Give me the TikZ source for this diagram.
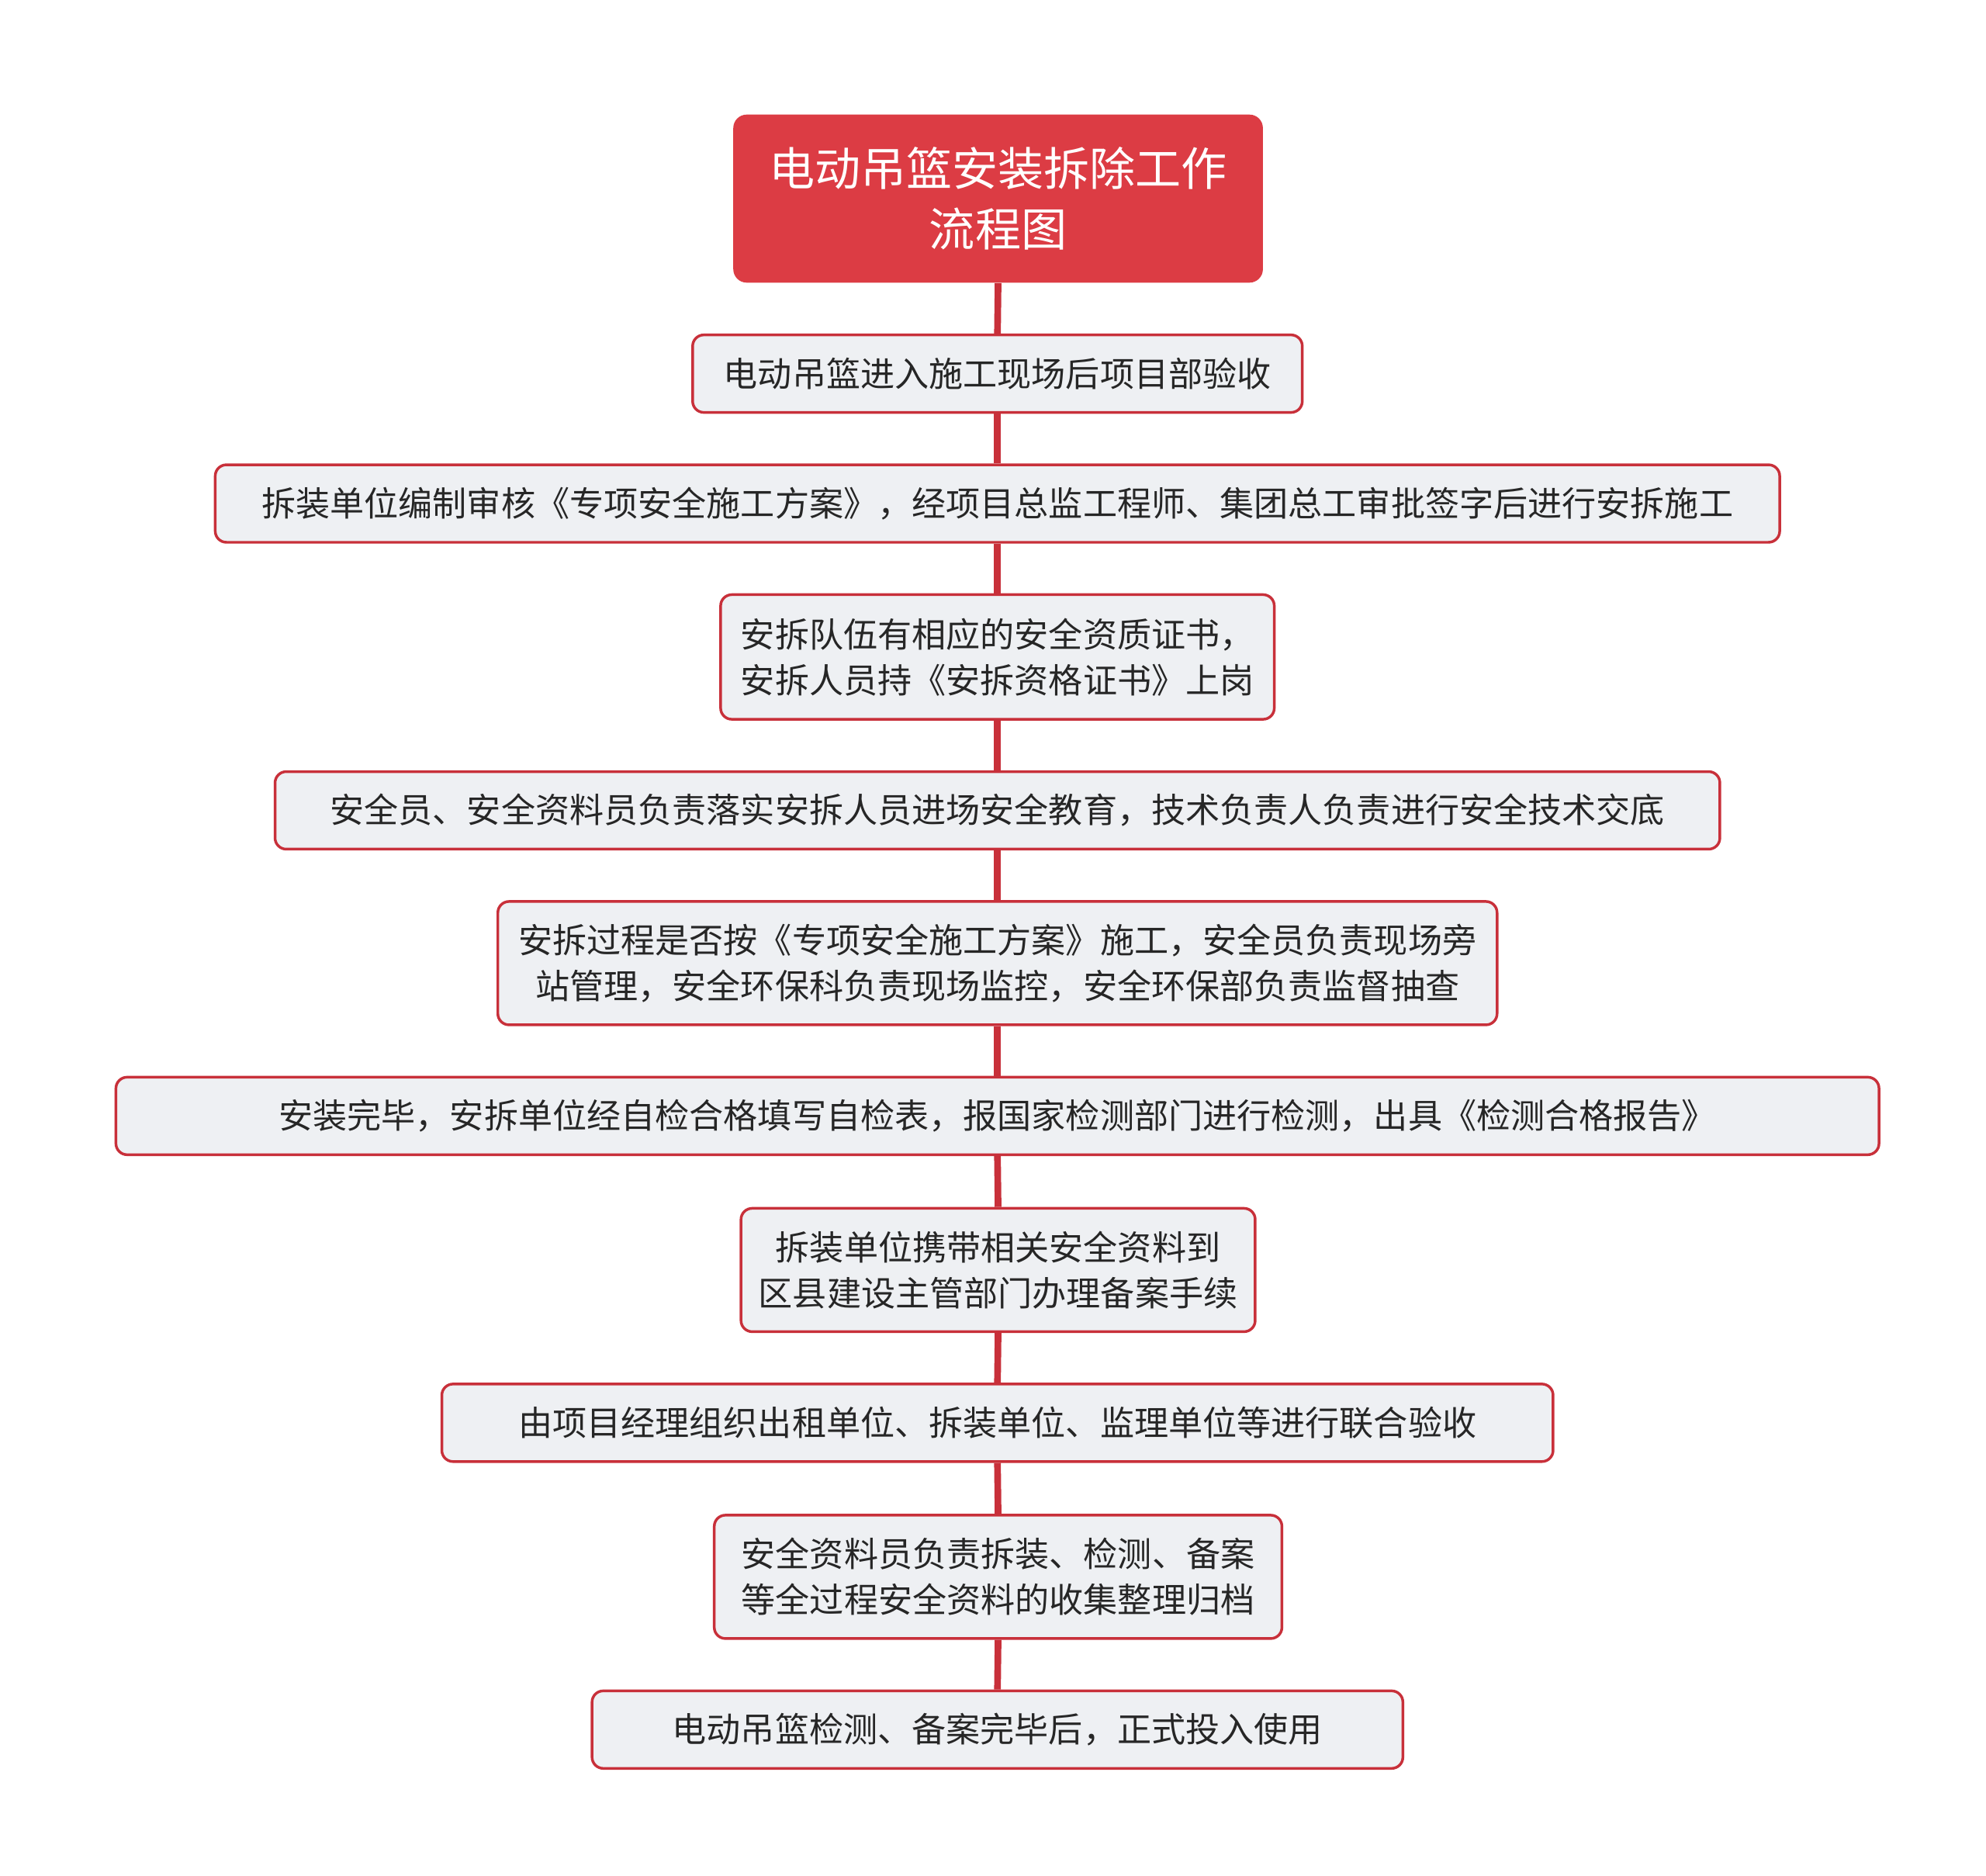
\documentclass[tikz,border=0pt]{standalone}
\usepackage{fontspec}
\setmainfont{Noto Sans CJK SC}
\begin{document}
\begin{tikzpicture}[x=0.02cm,y=-0.02cm,
 box/.style={draw=boxline,line width=1.2pt,fill=boxfill,rounded corners=5pt,inner sep=0pt,align=center,font=\fontsize{15.3}{20.5}\selectfont,text=black!85},
 link/.style={draw=boxline,line width=3pt}]
\definecolor{boxline}{HTML}{C8303A}
\definecolor{boxfill}{HTML}{EEF0F3}
\definecolor{titlered}{HTML}{DC3C44}
\useasboundingbox (0,0) rectangle (1560,1473);
\newcommand{\bx}[6]{\node[box,minimum width=#3*0.02cm-1.2pt,minimum height=#5*0.02cm-1.2pt] (#1) at (#2,#4) {#6};}
\node[fill=titlered,rounded corners=6pt,minimum width=416*0.02cm,minimum height=132*0.02cm,text=white,align=center,font=\fontsize{20.5}{27}\selectfont] (t) at (784,156) {电动吊篮安装拆除工作\\流程图};
\bx{a}{783.5}{481}{293.5}{63}{电动吊篮进入施工现场后项目部验收}
\bx{b}{783.5}{1231}{395.5}{63}{拆装单位编制审核《专项安全施工方案》，经项目总监工程师、集团总工审批签字后进行安拆施工}
\bx{c}{783.5}{437}{516}{100}{安拆队伍有相应的安全资质证书，\\安拆人员持《安拆资格证书》上岗}
\bx{d}{783.5}{1137}{636.5}{63}{安全员、安全资料员负责落实安拆人员进场安全教育，技术负责人负责进行安全技术交底}
\bx{e}{783.5}{787}{756.5}{99}{安拆过程是否按《专项安全施工方案》施工，安全员负责现场旁\\站管理，安全环保科负责现场监控，安全环保部负责监督抽查}
\bx{f}{783.5}{1387}{876.5}{63}{安装完毕，安拆单位经自检合格填写自检表，报国家检测部门进行检测，出具《检测合格报告》}
\bx{g}{784}{406}{997.5}{99}{拆装单位携带相关安全资料到\\区县建设主管部门办理备案手续}
\bx{h}{783.5}{875}{1117.5}{63}{由项目经理组织出租单位、拆装单位、监理单位等进行联合验收}
\bx{i}{784}{448}{1238.5}{99}{安全资料员负责拆装、检测、备案\\等全过程安全资料的收集整理归档}
\bx{j}{783.5}{639}{1358.5}{63}{电动吊篮检测、备案完毕后，正式投入使用}
\foreach \u/\v in {t/a,a/b,b/c,c/d,d/e,e/f,f/g,g/h,h/i,i/j} \draw[link] (\u.south) -- (\v.north);
\end{tikzpicture}
\end{document}
